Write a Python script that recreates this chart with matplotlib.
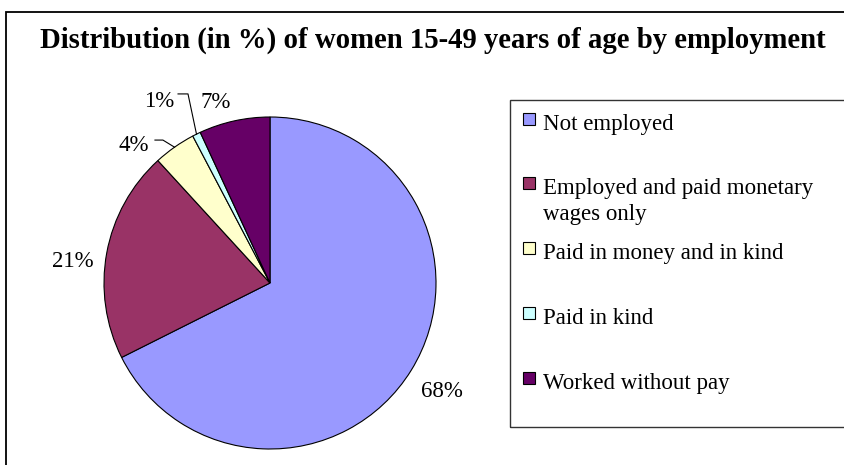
import numpy as np
import matplotlib
matplotlib.use('Agg')
import matplotlib.pyplot as plt
from matplotlib.patches import Rectangle

plt.rcParams['font.family'] = ['Liberation Serif', 'DejaVu Serif']

# data
categories = ['Not employed', 'Employed and paid monetary\nwages only',
              'Paid in money and in kind', 'Paid in kind', 'Worked without pay']
shares = [67.6, 20.6, 4.1, 0.8, 6.9]
colors = ['#9999FF', '#993366', '#FFFFCC', '#CCFFFF', '#660066']

# label positions (axes units, pie radius = 1)
label_pos = [(1.036, -0.651), (-1.187, 0.127), (-0.819, 0.831),
             (-0.669, 1.096), (-0.325, 1.090)]
# leader lines: index -> (start, elbow)
leaders = {2: [(-0.693, 0.861), (-0.645, 0.861)],
           3: [(-0.554, 1.139), (-0.494, 1.139)]}

W, H = 844, 465
fig = plt.figure(figsize=(W / 100, H / 100), dpi=100)

# outer frame
fig.patches.append(Rectangle((6 / W, -0.02), 1.05, 1 - 12 / H + 0.02,
                             transform=fig.transFigure, fill=False,
                             edgecolor='black', linewidth=1.3, clip_on=False))

fig.text(433 / W, 1 - 40 / H, 'Distribution (in %) of women 15-49 years of age by employment',
         ha='center', va='center', fontsize=20.7, fontweight='bold')

cx, cy, r = 270, 283, 166
ax = fig.add_axes([(cx - r) / W, (H - cy - r) / H, 2 * r / W, 2 * r / H])
wedges, _ = ax.pie(shares, colors=colors, startangle=90, counterclock=False,
                   radius=1, wedgeprops=dict(edgecolor='black', linewidth=0.8))
ax.set_xlim(-1, 1)
ax.set_ylim(-1, 1)
ax.axis('off')

for i, w in enumerate(wedges):
    ax.text(label_pos[i][0], label_pos[i][1], '%.0f%%' % shares[i],
            ha='center', va='center', fontsize=16.5, clip_on=False)
    if i in leaders:
        mid = np.deg2rad((w.theta1 + w.theta2) / 2)
        pts = leaders[i] + [(np.cos(mid), np.sin(mid))]
        xs = [p[0] for p in pts]
        ys = [p[1] for p in pts]
        ax.plot(xs, ys, color='black', linewidth=0.8, clip_on=False)

# legend box
fig.patches.append(Rectangle((510 / W, 1 - 427 / H), 0.5, (427 - 100) / H,
                             transform=fig.transFigure, fill=False,
                             edgecolor='#333333', linewidth=1.0, clip_on=False))
row_tops = [113, 177, 242, 307, 372]
for i, name in enumerate(categories):
    t = row_tops[i]
    fig.patches.append(Rectangle((523 / W, 1 - (t + 12) / H), 12 / W, 12 / H,
                                 transform=fig.transFigure, facecolor=colors[i],
                                 edgecolor='black', linewidth=0.8))
    for j, line in enumerate(name.split('\n')):
        fig.text(543 / W, 1 - (t + 17 + 26 * j) / H, line, ha='left', va='baseline',
                 fontsize=16.5)

fig.savefig('out.png', dpi=100)
